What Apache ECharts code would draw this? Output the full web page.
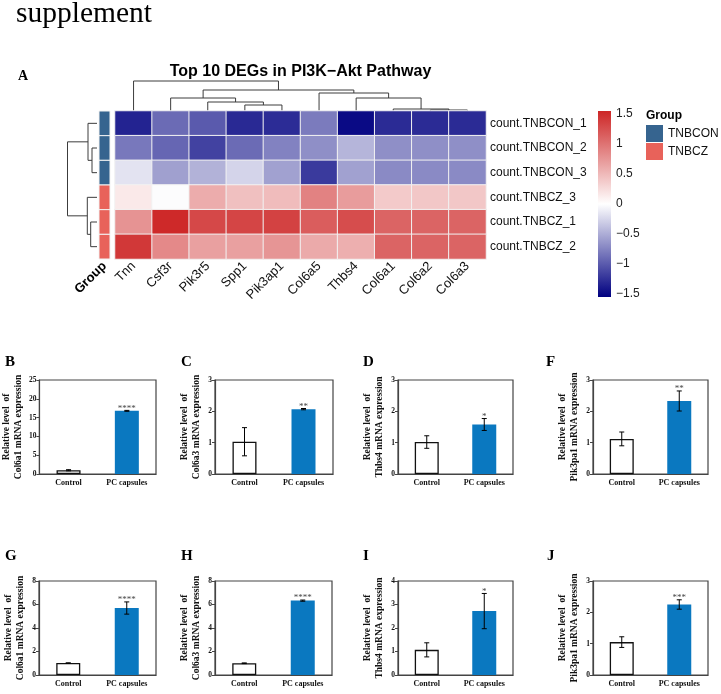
<!DOCTYPE html>
<html>
<head>
<meta charset="utf-8">
<script src="https://cdn.jsdelivr.net/npm/echarts@6/dist/echarts.min.js"></script>
<style>
  html, body { margin: 0; padding: 0; background: #fff; }
  #main { width: 721px; height: 694px; }
</style>
</head>
<body>
<div id="main"></div>
<script>
// heatmap: genes (columns) and samples (rows, top to bottom)
var genes = ['Tnn', 'Csf3r', 'Pik3r5', 'Spp1', 'Pik3ap1', 'Col6a5', 'Thbs4', 'Col6a1', 'Col6a2', 'Col6a3'];
var samples = ['count.TNBCON_1', 'count.TNBCON_2', 'count.TNBCON_3', 'count.TNBCZ_3', 'count.TNBCZ_1', 'count.TNBCZ_2'];
var sampleGroup = ['TNBCON', 'TNBCON', 'TNBCON', 'TNBCZ', 'TNBCZ', 'TNBCZ'];
var groupNames = ['TNBCON', 'TNBCZ'];

// row z-scores, one array per sample
var zCON1 = [-1.34, -0.90, -1.00, -1.30, -1.28, -0.80, -1.49, -1.29, -1.29, -1.29];
var zCON2 = [-0.82, -0.93, -1.15, -0.90, -0.76, -0.68, -0.45, -0.68, -0.68, -0.68];
var zCON3 = [-0.17, -0.58, -0.47, -0.26, -0.57, -1.20, -0.57, -0.71, -0.71, -0.71];
var zCZ3 = [0.16, -0.02, 0.59, 0.45, 0.48, 0.89, 0.71, 0.38, 0.40, 0.40];
var zCZ1 = [0.77, 1.53, 1.31, 1.33, 1.35, 1.16, 1.27, 1.11, 1.11, 1.11];
var zCZ2 = [1.42, 0.84, 0.68, 0.68, 0.76, 0.61, 0.57, 1.11, 1.11, 1.11];

// hclust style merges: negative = leaf (1-based), positive = earlier merge; [a, b, height]
var colMerge = [[-9, -10, 1], [-8, 1, 2], [-4, -5, 6], [-3, 3, 9], [-7, 2, 13],
                [-2, 4, 13], [-6, 5, 18], [6, 7, 21], [-1, 8, 30]];
var rowMerge = [[-2, -3, 5], [-5, -6, 6.3], [-1, 1, 9], [-4, 2, 9.7], [3, 4, 29.5]];

// colour key ticks
var keyTicks = [-1.5, -1, -0.5, 0, 0.5, 1, 1.5];

// qPCR panels
var barCats = ['Control', 'PC capsules'];
var panelLetters = ['B', 'C', 'D', 'F', 'G', 'H', 'I', 'J'];
var panelGenes = ['Col6a1', 'Col6a3', 'Thbs4', 'Pik3pa1', 'Col6a1', 'Col6a3', 'Thbs4', 'Pik3pa1'];
var ctrlMean = [1.0, 1.03, 1.02, 1.12, 1.02, 1.0, 1.07, 1.05];
var ctrlErr = [0.15, 0.45, 0.2, 0.22, 0.01, 0.03, 0.3, 0.17];
var pcMean = [16.8, 2.07, 1.58, 2.33, 5.7, 6.33, 2.72, 2.25];
var pcErr = [0.12, 0.02, 0.19, 0.32, 0.52, 0.05, 0.75, 0.15];
var stars = ['****', '**', '*', '**', '****', '****', '*', '***'];
var yMax = [25, 3, 3, 3, 8, 8, 4, 3];
var yStep = [5, 1, 1, 1, 2, 2, 1, 1];

var SERIF = '"Liberation Serif", "Times New Roman", serif';
var SANS = '"Liberation Sans", Arial, sans-serif';
var groupColor = { TNBCON: '#36648F', TNBCZ: '#E8625A' };

// layout of the eight bar panels
var panelLeft = [39, 215, 398, 593, 39, 215, 398, 593];
var panelWidth = [117, 118, 115, 115, 117, 117, 115, 115];
var panelTop = [380, 380, 380, 380, 581, 581, 581, 581];
var panelHeight = 94;
var letterX = [5, 181, 363, 546, 5, 181, 363, 547];
var letterY = [355, 355, 355, 355, 549, 549, 549, 549];

function dendroNodes(merge) {
    var nodes = [];
    function pos(id) { return id < 0 ? [-id - 0.5, 0] : nodes[id - 1]; }
    merge.forEach(function (m) {
        var a = pos(m[0]), b = pos(m[1]);
        nodes.push([(a[0] + b[0]) / 2, m[2], a, b]);
    });
    return nodes;
}
var colNodes = dendroNodes(colMerge);
var rowNodes = dendroNodes(rowMerge);

var zRows = [zCON1, zCON2, zCON3, zCZ3, zCZ1, zCZ2];
var heatData = [];
zRows.forEach(function (row, r) {
    row.forEach(function (v, c) { heatData.push([c, r, v]); });
});

var myChart = echarts.init(document.getElementById('main'));
var grids = [], xAxes = [], yAxes = [], series = [];
var lineStyle = { stroke: '#3c3c3c', lineWidth: 1, fill: null };

// 0: column dendrogram
grids.push({ left: 115, top: 81, width: 371, height: 30 });
xAxes.push({ gridIndex: 0, type: 'value', min: 0, max: genes.length, show: false });
yAxes.push({ gridIndex: 0, type: 'value', min: 0, max: 30, show: false });
series.push({
    type: 'custom', xAxisIndex: 0, yAxisIndex: 0, silent: true,
    data: colNodes.map(function (n) { return [n[0], n[1]]; }),
    renderItem: function (params, api) {
        var n = colNodes[params.dataIndex], a = n[2], b = n[3], h = n[1];
        return {
            type: 'polyline',
            shape: { points: [api.coord([a[0], a[1]]), api.coord([a[0], h]), api.coord([b[0], h]), api.coord([b[0], b[1]])] },
            style: lineStyle
        };
    }
});

// 1: row dendrogram
grids.push({ left: 67, top: 111, width: 30, height: 148 });
xAxes.push({ gridIndex: 1, type: 'value', min: 0, max: 30, inverse: true, show: false });
yAxes.push({ gridIndex: 1, type: 'value', min: 0, max: samples.length, inverse: true, show: false });
series.push({
    type: 'custom', xAxisIndex: 1, yAxisIndex: 1, silent: true,
    data: rowNodes.map(function (n) { return [n[1], n[0]]; }),
    renderItem: function (params, api) {
        var n = rowNodes[params.dataIndex], a = n[2], b = n[3], h = n[1];
        return {
            type: 'polyline',
            shape: { points: [api.coord([a[1], a[0]]), api.coord([h, a[0]]), api.coord([h, b[0]]), api.coord([b[1], b[0]])] },
            style: lineStyle
        };
    }
});

// 2: group annotation column
grids.push({ left: 99, top: 111, width: 11, height: 148 });
xAxes.push({
    gridIndex: 2, type: 'category', data: ['Group'],
    axisLine: { show: false }, axisTick: { show: false },
    axisLabel: { rotate: 45, margin: 5, fontSize: 13, fontWeight: 'bold', fontFamily: SANS, color: '#000' }
});
yAxes.push({ gridIndex: 2, type: 'category', data: samples, inverse: true, show: false });
groupNames.forEach(function (g) {
    var d = [];
    sampleGroup.forEach(function (sg, r) { if (sg === g) d.push([0, r]); });
    series.push({
        type: 'custom', name: g, xAxisIndex: 2, yAxisIndex: 2, silent: true,
        itemStyle: { color: groupColor[g] },
        data: d,
        renderItem: function (params, api) {
            var p = api.coord([api.value(0), api.value(1)]);
            var s = api.size([1, 1]);
            return {
                type: 'rect',
                shape: { x: p[0] - s[0] / 2, y: p[1] - s[1] / 2, width: s[0], height: s[1] },
                style: { fill: groupColor[g], stroke: '#f2f2f2', lineWidth: 1 }
            };
        }
    });
});

// 3: heatmap
grids.push({ left: 115, top: 111, width: 371, height: 148 });
xAxes.push({
    gridIndex: 3, type: 'category', data: genes,
    axisLine: { show: false }, axisTick: { show: false },
    axisLabel: { rotate: 45, margin: 5, interval: 0, fontSize: 13, fontFamily: SANS, color: '#111' }
});
yAxes.push({
    gridIndex: 3, type: 'category', data: samples, inverse: true, position: 'right',
    axisLine: { show: false }, axisTick: { show: false },
    axisLabel: { margin: 4, fontSize: 12, fontFamily: SANS, color: '#111' }
});
var heatIndex = series.length;
series.push({
    type: 'heatmap', xAxisIndex: 3, yAxisIndex: 3, data: heatData, silent: true,
    itemStyle: { borderColor: '#f2f2f2', borderWidth: 1 }
});

// 4: colour key axis
grids.push({ left: 598, top: 114, width: 13, height: 180 });
xAxes.push({ gridIndex: 4, type: 'value', show: false });
yAxes.push({
    gridIndex: 4, type: 'value', min: keyTicks[0], max: keyTicks[keyTicks.length - 1], interval: 0.5,
    position: 'right', axisLine: { show: false }, axisTick: { show: false }, splitLine: { show: false },
    axisLabel: {
        margin: 5, fontSize: 12, fontFamily: SANS, color: '#222',
        formatter: function (v) { return (v < 0 ? '\u2212' : '') + Math.abs(v); }
    }
});

// 5..12: bar panels
var graphics = [];
panelLetters.forEach(function (letter, i) {
    var gi = grids.length;
    grids.push({
        left: panelLeft[i], top: panelTop[i], width: panelWidth[i], height: panelHeight,
        show: true, borderColor: '#444', borderWidth: 1.2, backgroundColor: 'transparent'
    });
    xAxes.push({
        gridIndex: gi, type: 'category', data: barCats,
        axisLine: { lineStyle: { color: '#444', width: 1.2 } },
        axisTick: { alignWithLabel: true, length: 2, lineStyle: { color: '#444' } },
        axisLabel: { margin: 5, fontSize: 8, fontWeight: 'bold', fontFamily: SERIF, color: '#111' }
    });
    yAxes.push({
        gridIndex: gi, type: 'value', min: 0, max: yMax[i], interval: yStep[i],
        name: 'Relative level  of\n' + panelGenes[i] + ' mRNA expression',
        nameLocation: 'middle', nameRotate: 90, nameGap: 12,
        nameTextStyle: { fontSize: 9.5, fontWeight: 'bold', fontFamily: SERIF, color: '#111', lineHeight: 12 },
        axisLine: { show: true, lineStyle: { color: '#444', width: 1.2 } },
        axisTick: { show: true, length: 3, lineStyle: { color: '#444' } },
        splitLine: { show: false },
        axisLabel: { margin: 3, fontSize: 7.5, fontWeight: 'bold', fontFamily: SERIF, color: '#111' }
    });
    series.push({
        type: 'bar', xAxisIndex: gi, yAxisIndex: gi, barWidth: 24, silent: true,
        data: [
            { value: ctrlMean[i], itemStyle: { color: '#fff', borderColor: '#111', borderWidth: 1.3 } },
            { value: pcMean[i], itemStyle: { color: '#0A78C0' } }
        ]
    });
    series.push({
        type: 'custom', xAxisIndex: gi, yAxisIndex: gi, silent: true, z: 5,
        data: [[0, ctrlMean[i], ctrlErr[i]], [1, pcMean[i], pcErr[i]]],
        encode: { x: 0, y: 1 },
        renderItem: function (params, api) {
            var x = api.value(0), m = api.value(1), e = api.value(2);
            var top = api.coord([x, m + e]), bot = api.coord([x, m - e]);
            var cap = 2.5, st = { stroke: '#000', lineWidth: 1 };
            var kids = [
                { type: 'line', shape: { x1: top[0], y1: top[1], x2: bot[0], y2: bot[1] }, style: st },
                { type: 'line', shape: { x1: top[0] - cap, y1: top[1], x2: top[0] + cap, y2: top[1] }, style: st },
                { type: 'line', shape: { x1: bot[0] - cap, y1: bot[1], x2: bot[0] + cap, y2: bot[1] }, style: st }
            ];
            if (params.dataIndex === 1) {
                kids.push({
                    type: 'text', x: top[0], y: top[1] - 2,
                    style: { text: stars[i], font: '9px ' + SERIF, fill: '#444', align: 'center', verticalAlign: 'middle' }
                });
            }
            return { type: 'group', children: kids };
        }
    });
    graphics.push({
        type: 'text', left: letterX[i], top: letterY[i],
        style: { text: letter, font: 'bold 15px ' + SERIF, fill: '#000' }
    });
});

graphics.push({ type: 'text', left: 16, top: -1, style: { text: 'supplement', font: '29.5px ' + SERIF, fill: '#000' } });
graphics.push({ type: 'text', left: 18, top: 69, style: { text: 'A', font: 'bold 14px ' + SERIF, fill: '#000' } });
graphics.push({
    type: 'text', x: 300.5, y: 72,
    style: { text: 'Top 10 DEGs in PI3K\u2212Akt Pathway', font: 'bold 16px ' + SANS, fill: '#000', align: 'center', verticalAlign: 'middle' }
});
graphics.push({
    type: 'text', x: 646, y: 116,
    style: { text: 'Group', font: 'bold 12px ' + SANS, fill: '#000', verticalAlign: 'middle' }
});
graphics.push({
    type: 'rect', shape: { x: 598, y: 111, width: 13, height: 186 },
    style: {
        fill: new echarts.graphic.LinearGradient(0, 0, 0, 1, [
            { offset: 0, color: '#CD2626' }, { offset: 0.5, color: '#ffffff' }, { offset: 1, color: '#000080' }
        ])
    }
});

var option = {
    animation: false,
    backgroundColor: '#fff',
    grid: grids,
    xAxis: xAxes,
    yAxis: yAxes,
    visualMap: {
        type: 'continuous', show: false, min: -1.55, max: 1.55, seriesIndex: heatIndex,
        inRange: { color: ['#000080', '#ffffff', '#CD2626'] }
    },
    legend: {
        data: groupNames, orient: 'vertical', left: 646, top: 125, padding: 0,
        itemWidth: 17, itemHeight: 17, itemGap: 1, icon: 'rect', selectedMode: false,
        textStyle: { fontSize: 12, fontFamily: SANS, color: '#111' }
    },
    graphic: graphics,
    series: series
};
myChart.setOption(option);
</script>
</body>
</html>
